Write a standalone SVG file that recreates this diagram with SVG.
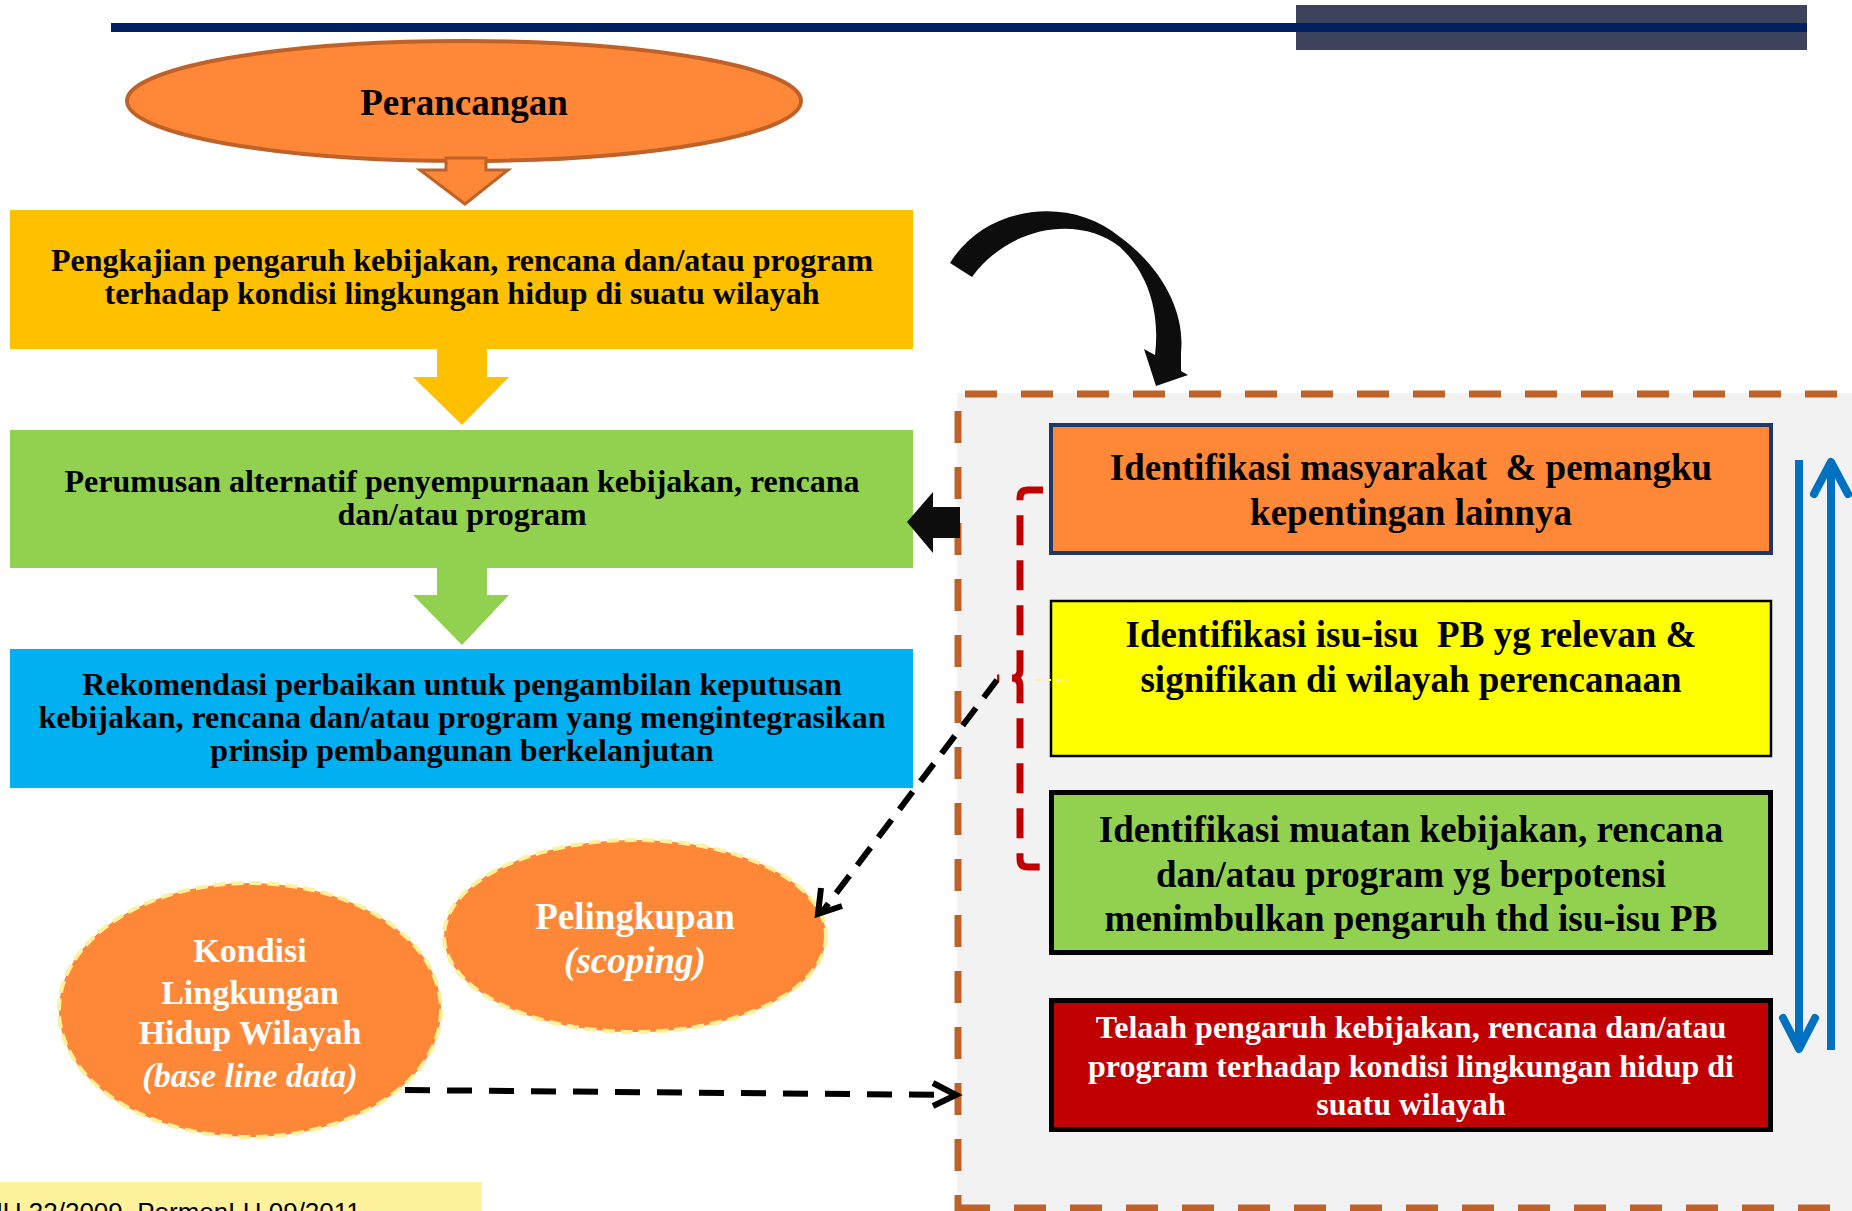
<svg xmlns="http://www.w3.org/2000/svg" width="1852" height="1211" viewBox="0 0 1852 1211">
<style>
.t{font-family:"Liberation Serif","Times New Roman",serif;font-weight:bold;text-anchor:middle;fill:#000}
.w{fill:#fff}
.i{font-style:italic}
.s32{font-size:32px}
.s37{font-size:37px}
.s34{font-size:34px}
.panel{stroke:#BF6229;stroke-width:7;stroke-dasharray:32 24;fill:none}
.ell{fill:#FF8838;stroke:#FFF09B;stroke-width:4;stroke-dasharray:12 6}
.blk{stroke:#000;stroke-width:6;fill:none}
.blue{stroke:#0070C0;stroke-width:8;fill:none}
</style>
<rect x="0" y="0" width="1852" height="1211" fill="#fff"/>
<!-- header bar -->
<g id="header">
<rect x="1296" y="5" width="511" height="45" fill="#3B445C"/>
<rect x="111" y="23" width="1696" height="9" fill="#002060"/>
</g>
<!-- right panel -->
<g id="panel">
<rect x="957" y="393" width="900" height="820" fill="#F2F2F2"/>
<path class="panel" d="M965,394 H1860"/>
<path class="panel" d="M958,411 V1211"/>
<path class="panel" d="M958,1208 H1860"/>
</g>
<g id="node-perancangan">
<ellipse cx="464" cy="101" rx="337" ry="60" fill="#FF8838" stroke="#BF6229" stroke-width="4"/>
<text class="t s37" x="464" y="115">Perancangan</text>
</g>
<g id="node-pengkajian">
<rect x="10" y="210" width="903" height="139" fill="#FFC000"/>
<text class="t s32" x="462" y="271">Pengkajian pengaruh kebijakan, rencana dan/atau program</text>
<text class="t s32" x="462" y="304">terhadap kondisi lingkungan hidup di suatu wilayah</text>
</g>
<g id="node-perumusan">
<rect x="10" y="430" width="903" height="138" fill="#92D050"/>
<text class="t s32" x="462" y="492">Perumusan alternatif penyempurnaan kebijakan, rencana</text>
<text class="t s32" x="462" y="525">dan/atau program</text>
</g>
<g id="node-rekomendasi">
<rect x="10" y="649" width="903" height="139" fill="#00B0F0"/>
<text class="t s32" x="462" y="695">Rekomendasi perbaikan untuk pengambilan keputusan</text>
<text class="t s32" x="462" y="728">kebijakan, rencana dan/atau program yang mengintegrasikan</text>
<text class="t s32" x="462" y="761">prinsip pembangunan berkelanjutan</text>
</g>
<g id="node-identifikasi-masyarakat">
<rect x="1051" y="425" width="720" height="128" fill="#FF8838" stroke="#1F3864" stroke-width="4"/>
<text class="t s37" x="1411" y="480" xml:space="preserve">Identifikasi masyarakat  &amp; pemangku</text>
<text class="t s37" x="1411" y="525">kepentingan lainnya</text>
</g>
<g id="node-identifikasi-isu">
<rect x="1051" y="601" width="720" height="155" fill="#FFFF00" stroke="#000" stroke-width="2.5"/>
<text class="t s37" x="1411" y="647" xml:space="preserve">Identifikasi isu-isu  PB yg relevan &amp;</text>
<text class="t s37" x="1411" y="692">signifikan di wilayah perencanaan</text>
</g>
<g id="node-identifikasi-muatan">
<rect x="1051.5" y="792.5" width="719" height="160" fill="#92D050" stroke="#000" stroke-width="5"/>
<text class="t s37" x="1411" y="842">Identifikasi muatan kebijakan, rencana</text>
<text class="t s37" x="1411" y="887">dan/atau program yg berpotensi</text>
<text class="t s37" x="1411" y="931">menimbulkan pengaruh thd isu-isu PB</text>
</g>
<g id="node-telaah">
<rect x="1051.5" y="1000.5" width="719" height="129" fill="#C00000" stroke="#000" stroke-width="5"/>
<text class="t w s32" x="1411" y="1038">Telaah pengaruh kebijakan, rencana dan/atau</text>
<text class="t w s32" x="1411" y="1077">program terhadap kondisi lingkungan hidup di</text>
<text class="t w s32" x="1411" y="1115">suatu wilayah</text>
</g>
<g id="node-pelingkupan">
<ellipse class="ell" cx="635" cy="936" rx="191" ry="96"/>
<text class="t w s37" x="635" y="929">Pelingkupan</text>
<text class="t w i s37" x="635" y="973">(scoping)</text>
</g>
<g id="node-kondisi">
<ellipse class="ell" cx="250" cy="1010" rx="191" ry="127"/>
<text class="t w s34" x="250" y="962">Kondisi</text>
<text class="t w s34" x="250" y="1004">Lingkungan</text>
<text class="t w s34" x="250" y="1044">Hidup Wilayah</text>
<text class="t w i s34" x="250" y="1087">(base line data)</text>
</g>
<g id="note">
<rect x="0" y="1182" width="482" height="30" fill="#FFF29D"/>
<text x="-16" y="1221" font-family="Liberation Sans, Arial, sans-serif" font-size="26" fill="#000">UU 32/2009, PermenLH 09/2011</text>
</g>
<g id="connectors">
<!-- block arrows down -->
<path d="M446,158 H486 V170 H508 L465,204 L420,170 H446 Z" fill="#FF8838" stroke="#BF6229" stroke-width="3" stroke-linejoin="miter"/>
<path d="M437,349 H487 V377 H509 L462,425 L413,377 H437 Z" fill="#FFC000"/>
<path d="M437,568 H487 V595 H509 L462,645 L413,595 H437 Z" fill="#92D050"/>
<!-- curved black arrow -->
<path d="M950,263 C985,205 1070,195 1120,237 C1165,270 1185,315 1181,352 L1181,371 L1188,375 L1156,386 L1144,349 L1155,355 C1160,315 1150,275 1120,247 C1080,215 1010,225 972,277 Z" fill="#0D0D0D"/>
<!-- left block arrow into perumusan -->
<path d="M960,507 H933 V492 L907,522 L933,553 V538 H960 Z" fill="#0D0D0D"/>
<!-- red brace -->
<path d="M1043,490 H1028 Q1020,490 1020,498 V670 Q1020,678 1012,678 H997 M1012,678 Q1020,678 1020,686 V859 Q1020,867 1028,867 H1043" fill="none" stroke="#C00000" stroke-width="7" stroke-dasharray="30 15"/>
<path d="M1035,680 H1067" stroke="#FFF2A0" stroke-width="2" stroke-dasharray="6 4"/>
<!-- dashed black to pelingkupan -->
<path class="blk" d="M997,680 L822,912" stroke-dasharray="22 13"/>
<path class="blk" d="M821,888 L818,914 L842,906"/>
<!-- dashed black from kondisi to panel -->
<path class="blk" d="M405,1090 L950,1095" stroke-width="7" stroke-dasharray="25 17"/>
<path class="blk" d="M933,1083 L956,1095 L933,1106" stroke-width="7"/>
<!-- blue arrows -->
<path class="blue" d="M1799,460 V1046"/>
<path class="blue" d="M1783,1018 L1799,1049 L1815,1018" stroke-linecap="round" stroke-linejoin="round"/>
<path class="blue" d="M1831,1050 V465"/>
<path class="blue" d="M1814,494 L1831,462 L1848,494" stroke-linecap="round" stroke-linejoin="round"/>
</g>
</svg>
